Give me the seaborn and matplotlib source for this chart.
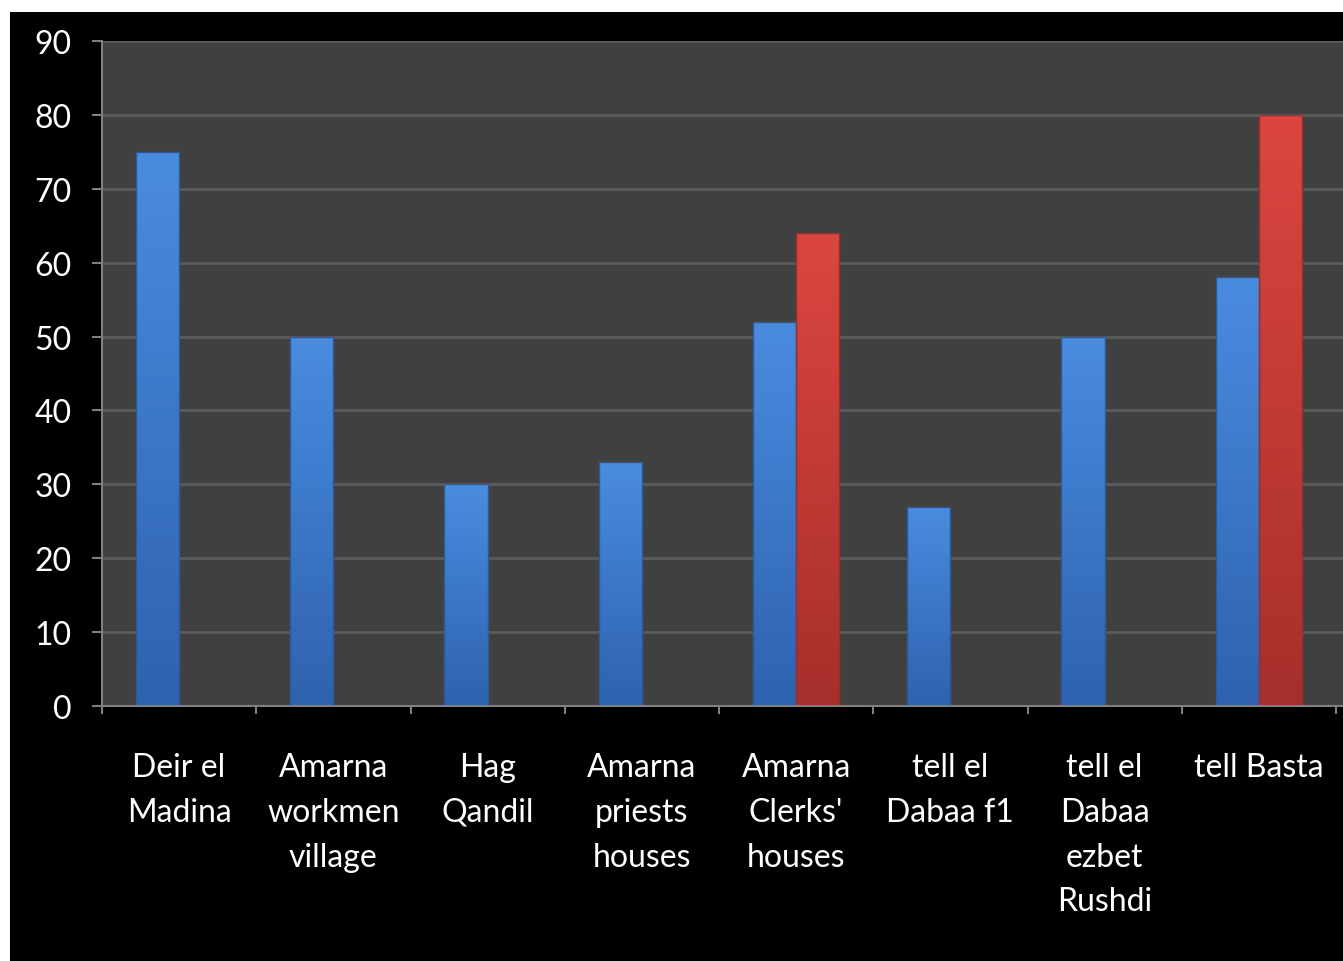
import numpy as np
import pandas as pd
import matplotlib
matplotlib.use("Agg")
import matplotlib.pyplot as plt
import seaborn as sns
from matplotlib.patches import Rectangle
from matplotlib.colors import LinearSegmentedColormap, to_rgb

categories = ["Deir el\nMadina", "Amarna\nworkmen\nvillage", "Hag\nQandil",
              "Amarna\npriests\nhouses", "Amarna\nClerks'\nhouses", "tell el\nDabaa f1",
              "tell el\nDabaa\nezbet\nRushdi", "tell Basta"]
series_a = [75, 50, 30, 33, 52, 27, 50, 58]
series_b = [np.nan, np.nan, np.nan, np.nan, 64, np.nan, np.nan, 80]
series_names = ["A", "B"]
colors = ["#3b78cc", "#cc3d38"]
grad_top = {"A": "#4a8ce0", "B": "#dc4640"}
grad_bottom = {"A": "#2e62ae", "B": "#a62f2b"}
yticks = [0, 10, 20, 30, 40, 50, 60, 70, 80, 90]

df = pd.DataFrame({
    "cat": categories * 2,
    "val": series_a + series_b,
    "series": [series_names[0]] * len(categories) + [series_names[1]] * len(categories),
})

sns.set_theme(style="dark")
plt.rcParams["font.family"] = ["Lato", "DejaVu Sans"]

W, H = 1343, 962
fig = plt.figure(figsize=(W / 100, H / 100), dpi=100, facecolor="white")
bg = Rectangle((10 / W, 0), 1 - 10 / W, 1 - 13 / H, transform=fig.transFigure,
               facecolor="black", edgecolor="none", zorder=-10)
fig.add_artist(bg)

ax = fig.add_axes([102 / W, 1 - 707 / H, 1 - 102 / W, (707 - 42) / H])
ax.set_zorder(1)
ax.set_facecolor("#404040")

sns.barplot(data=df, x="cat", y="val", hue="series", order=categories,
            hue_order=series_names, palette=colors, width=0.56, gap=0,
            saturation=1, legend=False, ax=ax, edgecolor="none", zorder=3)

ax.set_ylim(0, 90)
ax.set_xlim(-0.5, 7.5 + 7 / 154.25)

# vertical gradient fill clipped to each bar
grad = np.linspace(1, 0, 256).reshape(-1, 1)
for p in list(ax.patches):
    fc = p.get_facecolor()[:3]
    key = "A" if np.allclose(fc, to_rgb(colors[0]), atol=0.02) else "B"
    cmap = LinearSegmentedColormap.from_list(key, [grad_bottom[key], grad_top[key]])
    x0, y0 = p.get_x(), p.get_y()
    w, h = p.get_width(), p.get_height()
    if not np.isfinite(h) or h == 0:
        continue
    im = ax.imshow(grad, extent=(x0, x0 + w, y0, y0 + h), cmap=cmap, aspect="auto",
                   vmin=0, vmax=1, zorder=3.5, interpolation="bilinear")
    im.set_clip_path(p)
    p.set_edgecolor(tuple(v * 0.75 for v in fc) + (1,))
    p.set_linewidth(1.0)
    p.set_zorder(3.6)
    p.set_facecolor("none")

ax.set_ylim(0, 90)
ax.set_xlim(-0.5, 7.5 + 7 / 154.25)
ax.set_aspect("auto")

ax.set_yticks(yticks)
ax.set_yticklabels([str(v) for v in yticks], color="white", fontsize=23)
ax.set_xticks(range(len(categories)))
ax.set_xticklabels(categories, color="white", fontsize=23, linespacing=1.62, va="top")
ax.tick_params(axis="x", which="major", length=0, pad=33)
ax.set_xticks(np.arange(-0.5, 8.0, 1.0), minor=True)
ax.tick_params(axis="x", which="minor", length=6, width=1.5, color="#808080",
               direction="out", bottom=True)
ax.tick_params(axis="y", length=7, width=1.5, color="#808080", direction="out",
               pad=15, left=True)

ax.grid(axis="y", color="#5c5c5c", linewidth=2, zorder=1)
ax.grid(axis="x", visible=False)
ax.set_axisbelow(True)
ax.set_xlabel("")
ax.set_ylabel("")
for s in ["top", "right"]:
    ax.spines[s].set_visible(False)
for s in ["left", "bottom"]:
    ax.spines[s].set_visible(True)
    ax.spines[s].set_color("#808080")
    ax.spines[s].set_linewidth(1.5)
    ax.spines[s].set_zorder(4)

fig.savefig("out.png", dpi=100, facecolor=fig.get_facecolor())
